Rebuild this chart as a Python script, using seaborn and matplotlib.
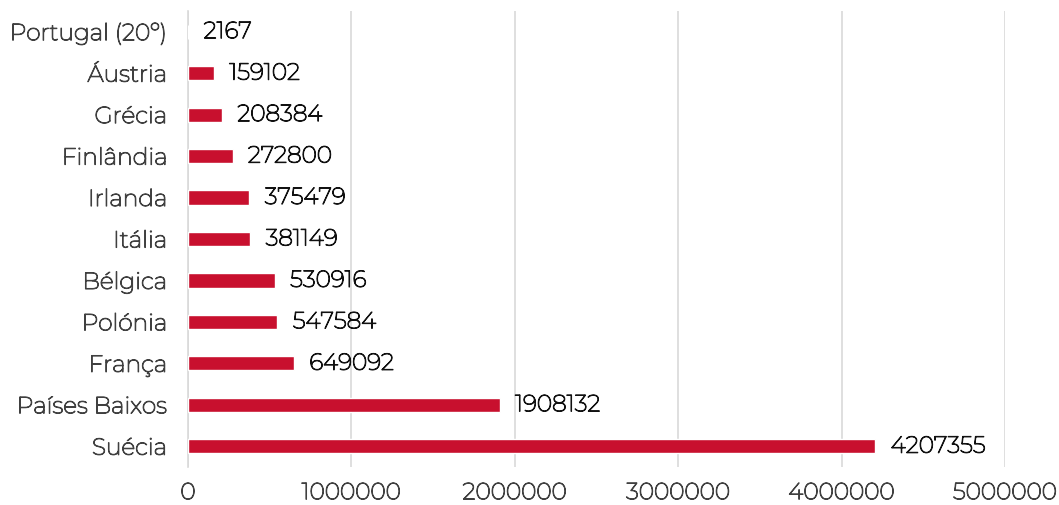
import matplotlib
matplotlib.use("Agg")
import matplotlib.pyplot as plt
import matplotlib.patheffects as pe
import seaborn as sns
import pandas as pd

countries = ["Portugal (20º)", "Áustria", "Grécia", "Finlândia", "Irlanda", "Itália",
             "Bélgica", "Polónia", "França", "Países Baixos", "Suécia"]
values = [2167, 159102, 208384, 272800, 375479, 381149, 530916, 547584, 649092, 1908132, 4207355]
xticks = [0, 1000000, 2000000, 3000000, 4000000, 5000000]

sns.set_theme(style="white")
plt.rcParams['font.family'] = ['Montserrat', 'DejaVu Sans']
txt = "#404040"
val = "#111111"
fs = 16.8

df = pd.DataFrame({"country": countries, "value": values})
fig = plt.figure(figsize=(10.59, 5.06), dpi=100)
ax = fig.add_axes([188/1059, 1-468/506, (1005-188)/1059, (468-12)/506])
sns.barplot(data=df, y="country", x="value", color="#C8102E", saturation=1,
            width=0.34, ax=ax, zorder=3)
ax.set_xlim(0, 5000000)
ax.set_ylim(10.5, -0.5)
ax.set_xticks(xticks)
ax.set_xticklabels([str(t) for t in xticks])
ax.grid(axis="x", color="#d9d9d9", linewidth=1.2, zorder=0)
for s in ["top", "right", "bottom"]:
    ax.spines[s].set_visible(False)
ax.spines["left"].set_color("#d9d9d9")
ax.spines["left"].set_linewidth(1.2)
ax.set_xlabel("")
ax.set_ylabel("")
ax.tick_params(axis="both", length=0, labelsize=fs, colors=txt)
ax.tick_params(axis="y", pad=15)
ax.tick_params(axis="x", pad=11)
for lab in ax.get_xticklabels() + ax.get_yticklabels():
    lab.set_path_effects([pe.withStroke(linewidth=0.8, foreground=txt)])
for c in ax.containers:
    texts = ax.bar_label(c, labels=[str(v) for v in values], padding=11, fontsize=fs, color=val)
    for t in texts:
        t.set_path_effects([pe.withStroke(linewidth=0.8, foreground=val)])
fig.savefig("out.png", dpi=100)
